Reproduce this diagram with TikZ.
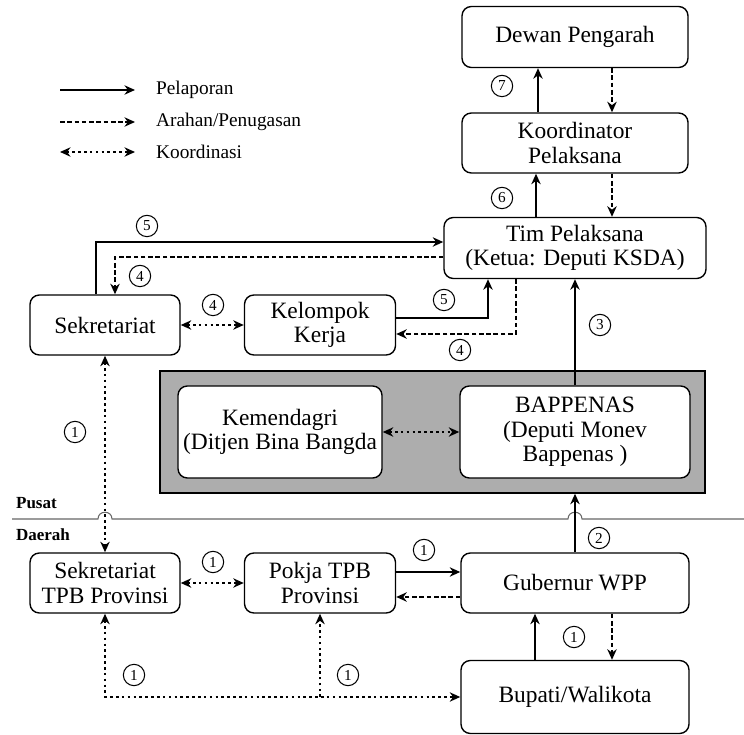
\documentclass[tikz,border=0pt]{standalone}
\usepackage{fontspec}
\setmainfont{Liberation Serif}
\usetikzlibrary{arrows.meta,positioning}
\tikzset{
  kotak/.style={draw, line width=1.2pt, rounded corners=8pt, fill=white, align=center,
    inner sep=2pt, font=\fontsize{20}{21}\selectfont},
  nomor/.style={circle, draw, line width=0.9pt, inner sep=0pt, minimum size=0.64cm,
    font=\fontsize{13}{13}\selectfont},
  ujung/.tip={Stealth[length=9pt,width=8pt]},
  lapor/.style={line width=2.3pt, -ujung},
  arahan/.style={line width=2pt, dash pattern=on 4pt off 2.2pt, -ujung},
  titik/.style={line width=2.2pt, dash pattern=on 2.2pt off 2.8pt},
  koord/.style={titik, ujung-ujung},
  ket/.style={anchor=west, font=\fontsize{16.5}{17}\selectfont},
  wilayah/.style={anchor=west, font=\bfseries\fontsize{14.5}{15}\selectfont}
}
\begin{document}
\begin{tikzpicture}[x=0.03cm, y=-0.03cm] %Struktur TPB
\useasboundingbox (0,0) rectangle (744,735);

% legenda
\coordinate (la1) at (60,90);  \coordinate (lb1) at (135,90);
\coordinate (la2) at (60,122); \coordinate (lb2) at (135,122);
\coordinate (la3) at (60,152); \coordinate (lb3) at (135,152);
\draw[lapor] (la1) -- (lb1);
\draw[arahan] (la2) -- (lb2);
\draw[koord] (la3) -- (lb3);
\node[ket] (t1) at (152,90) {Pelaporan};
\node[ket] (t2) at (152,122) {Arahan/Penugasan};
\node[ket] (t3) at (152,152) {Koordinasi};

% pusat
\node[kotak, minimum width=6.78cm, minimum height=1.83cm] (dewan) at (575,37) {Dewan Pengarah};
\node[kotak, minimum width=6.78cm, minimum height=1.8cm] (koord) at (575,143) {Koordinator\\Pelaksana};
\node[kotak, minimum width=7.86cm, minimum height=1.83cm] (tim) at (575,248) {Tim Pelaksana\\(Ketua: Deputi KSDA)};
\node[kotak, minimum width=4.5cm, minimum height=1.8cm] (sek) at (105,325) {Sekretariat};
\node[kotak, minimum width=4.53cm, minimum height=1.8cm] (kel) at (320,325) {Kelompok\\Kerja};
\node[draw, line width=1.2pt, fill=black!32, minimum width=16.35cm, minimum height=3.66cm] (abu) at (432.5,432) {};
\node[kotak, minimum width=6.12cm, minimum height=2.76cm] (kem) at (280,432) {Kemendagri\\(Ditjen Bina Bangda};
\node[kotak, minimum width=6.9cm, minimum height=2.76cm] (bap) at (575,432) {BAPPENAS\\(Deputi Monev\\Bappenas )};

% garis batas
\coordinate (gA) at (12,519);
\coordinate (gB) at (744,519);
\draw[line width=0.9pt, black!60] (gA) -- (98,519) .. controls (98,510) and (112,510) .. (112,519)
  -- (568,519) .. controls (568,510) and (582,510) .. (582,519) -- (gB);
\node[wilayah] (pusat) at (12,503) {Pusat};
\node[wilayah] (daerah) at (12,535) {Daerah};

% daerah
\node[kotak, minimum width=4.5cm, minimum height=1.8cm] (sekprov) at (105,583) {Sekretariat\\TPB Provinsi};
\node[kotak, minimum width=4.53cm, minimum height=1.8cm] (pokja) at (320,583) {Pokja TPB\\Provinsi};
\node[kotak, minimum width=6.84cm, minimum height=1.8cm] (gub) at (575,583) {Gubernur WPP};
\node[kotak, minimum width=6.84cm, minimum height=2.19cm] (bup) at (575,697) {Bupati/Walikota};

% panah
\draw[lapor] ([xshift=-1.11cm]koord.north) -- ([xshift=-1.11cm]dewan.south);
\draw[arahan] ([xshift=1.11cm]dewan.south) -- ([xshift=1.11cm]koord.north);
\draw[lapor] ([xshift=-1.17cm]tim.north) -- ([xshift=-1.17cm]koord.south);
\draw[arahan] ([xshift=1.11cm]koord.south) -- ([xshift=1.11cm]tim.north);
\draw[lapor] ([xshift=-0.27cm]sek.north) |- ([yshift=0.18cm]tim.west);
\draw[arahan] ([yshift=-0.27cm]tim.west) -| ([xshift=0.3cm]sek.north);
\draw[koord] (sek.east) -- (kel.west);
\draw[lapor] ([yshift=0.21cm]kel.east) -| ([xshift=-2.61cm]tim.south);
\draw[arahan] ([xshift=-1.77cm]tim.south) |- ([yshift=-0.27cm]kel.east);
\draw[lapor] (bap.north) -- (tim.south);
\draw[koord] (kem.east) -- (bap.west);
\draw[lapor] (gub.north) -- (gub.north |- abu.south);
\draw[koord] (sek.south) -- (sekprov.north);
\draw[koord] (sekprov.east) -- (pokja.west);
\draw[lapor] ([yshift=0.33cm]pokja.east) -- ([yshift=0.33cm]gub.west);
\draw[arahan] ([yshift=-0.42cm]gub.west) -- ([yshift=-0.42cm]pokja.east);
\draw[lapor] ([xshift=-1.2cm]bup.north) -- ([xshift=-1.2cm]gub.south);
\draw[arahan] ([xshift=1.11cm]gub.south) -- ([xshift=1.11cm]bup.north);
\draw[koord] (sekprov.south) |- (bup.west);
\coordinate (cabang) at (pokja.south |- bup.west);
\draw[titik, -ujung] (cabang) -- (pokja.south);

% nomor
\node[nomor] (n7) at (502,86) {7};
\node[nomor] (n6) at (502,198) {6};
\node[nomor] (n5a) at (147,226) {5};
\node[nomor] (n4a) at (140,276) {4};
\node[nomor] (n4b) at (213,305) {4};
\node[nomor] (n5b) at (444,300) {5};
\node[nomor] (n4c) at (460,350) {4};
\node[nomor] (n3) at (600,325) {3};
\node[nomor] (n2) at (599,538) {2};
\node[nomor] (n1a) at (75,432) {1};
\node[nomor] (n1b) at (213,562) {1};
\node[nomor] (n1c) at (424,550) {1};
\node[nomor] (n1d) at (574,637) {1};
\node[nomor] (n1e) at (134,675) {1};
\node[nomor] (n1f) at (348,675) {1};
\end{tikzpicture}
\end{document}
